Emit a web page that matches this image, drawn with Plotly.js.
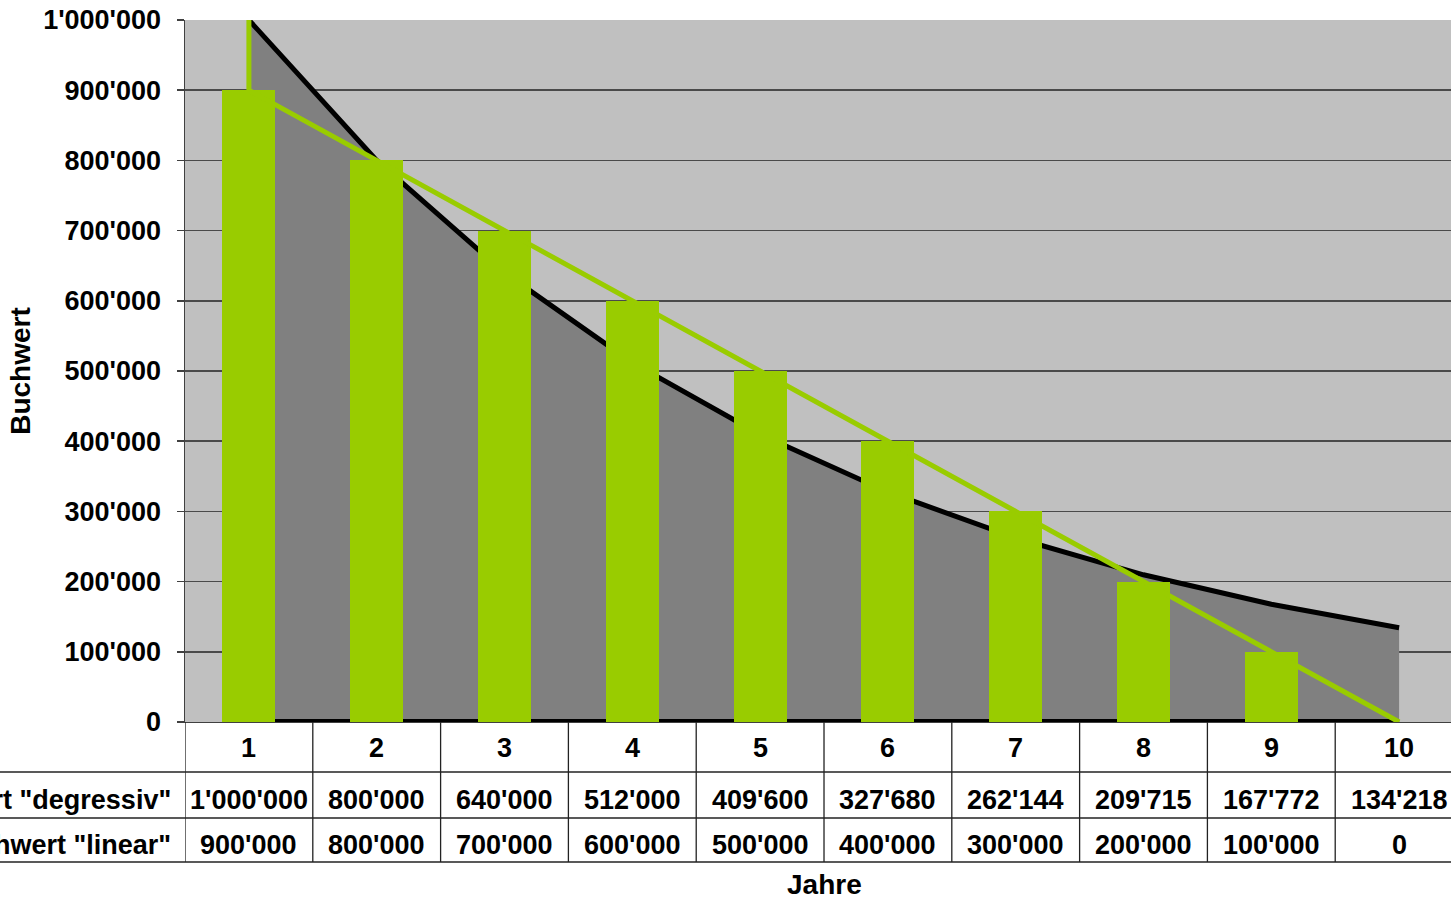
<!DOCTYPE html>
<html>
<head>
<meta charset="utf-8">
<script src="https://cdn.plot.ly/plotly-3.0.1.min.js"></script>
<style>
html,body{margin:0;padding:0;background:#fff;overflow:hidden;}
#chart{width:1451px;height:901px;}
</style>
</head>
<body>
<div id="chart"></div>
<script>
// ---- data ----
var jahre = [1, 2, 3, 4, 5, 6, 7, 8, 9, 10];
var buchwertDegressiv = [1000000, 800000, 640000, 512000, 409600, 327680, 262144, 209715, 167772, 134218];
var buchwertLinear = [900000, 800000, 700000, 600000, 500000, 400000, 300000, 200000, 100000, 0];
var anschaffungswert = 1000000;
var rowLabels = ['Buchwert "degressiv"', 'Buchwert "linear"'];
var xTitle = 'Jahre';
var yTitle = 'Buchwert';
var yTickVals = [0, 100000, 200000, 300000, 400000, 500000, 600000, 700000, 800000, 900000, 1000000];

// ---- helpers ----
function fmt(v) { return String(v).replace(/\B(?=(\d{3})+(?!\d))/g, "'"); }

var FONT = '"Liberation Sans", Arial, sans-serif';
var green = '#99CC00';
var FS = 27;
var FT = 28;

var traces = [
  { // area degressiv (bottom layer, main axes)
    type: 'scatter', mode: 'lines', x: jahre, y: buchwertDegressiv,
    fill: 'tozeroy', fillcolor: '#808080',
    line: { color: '#000000', width: 5 }, xaxis: 'x', yaxis: 'y', hoverinfo: 'skip'
  },
  { // bottom border of area
    type: 'scatter', mode: 'lines', x: [jahre[0], jahre[jahre.length - 1]], y: [0, 0],
    line: { color: '#000000', width: 6 }, xaxis: 'x', yaxis: 'y', hoverinfo: 'skip'
  },
  { // bars linear (overlay axes)
    type: 'bar', x: jahre, y: buchwertLinear, width: 0.415,
    marker: { color: green, line: { width: 0 } }, xaxis: 'x', yaxis: 'y2'
  },
  { // linear line incl. start value
    type: 'scatter', mode: 'lines', x: [jahre[0]].concat(jahre), y: [anschaffungswert].concat(buchwertLinear),
    line: { color: green, width: 5 }, xaxis: 'x', yaxis: 'y2', hoverinfo: 'skip'
  }
];

// table geometry (paper y)
function py(px) { return (722 - px) / 702; }
var annotations = [];
var shapes = [];
jahre.forEach(function (j, i) {
  annotations.push({ xref: 'x', yref: 'paper', x: j, y: py(748), text: String(j), showarrow: false,
    xanchor: 'center', yanchor: 'middle', font: { family: FONT, size: FS, weight: 'bold', color: '#000' } });
  annotations.push({ xref: 'x', yref: 'paper', x: j, y: py(800), text: fmt(buchwertDegressiv[i]), showarrow: false,
    xanchor: 'center', yanchor: 'middle', font: { family: FONT, size: FS, weight: 'bold', color: '#000' } });
  annotations.push({ xref: 'x', yref: 'paper', x: j, y: py(845), text: fmt(buchwertLinear[i]), showarrow: false,
    xanchor: 'center', yanchor: 'middle', font: { family: FONT, size: FS, weight: 'bold', color: '#000' } });
  shapes.push({ type: 'line', xref: 'x', yref: 'paper', x0: j - 0.5, x1: j - 0.5, y0: 0, y1: py(862),
    line: { color: '#222', width: 1.3 } });
});
[py(800), py(845)].forEach(function (yy, k) {
  annotations.push({ xref: 'paper', yref: 'paper', x: (173 - 185) / 1266, y: yy, text: rowLabels[k], showarrow: false,
    xanchor: 'right', yanchor: 'middle', font: { family: FONT, size: FS, weight: 'bold', color: '#000' } });
});
[772, 818, 862].forEach(function (px) {
  shapes.push({ type: 'line', xref: 'paper', yref: 'paper', x0: -0.2, x1: 1, y0: py(px), y1: py(px),
    line: { color: '#222', width: 1.3 } });
});
// x-axis title centred under the full category span
annotations.push({ xref: 'x', yref: 'paper', x: (jahre[0] + jahre[jahre.length - 1]) / 2, y: py(884), text: xTitle,
  showarrow: false, xanchor: 'center', yanchor: 'middle', borderpad: 0,
  font: { family: FONT, size: FT, weight: 'bold', color: '#000' } });

var layout = {
  width: 1451, height: 901,
  margin: { l: 185, r: 0, t: 20, b: 179, pad: 0 },
  paper_bgcolor: '#ffffff', plot_bgcolor: '#C0C0C0',
  separators: ".'",
  showlegend: false,
  font: { family: FONT, size: FS, color: '#000' },
  xaxis: {
    range: [0.5, 10.406], showticklabels: false, showgrid: false, zeroline: false,
    showline: true, linecolor: '#404040', linewidth: 1, ticks: '', fixedrange: true
  },
  yaxis: {
    range: [0, 1000000], tickvals: yTickVals, tickformat: ',d',
    showgrid: true, gridcolor: '#4a4a4a', gridwidth: 1.5, zeroline: false,
    showline: true, linecolor: '#404040', linewidth: 1.5,
    ticks: 'outside', ticklen: 7, tickcolor: '#404040', tickwidth: 1.5,
    ticklabelstandoff: 10,
    tickfont: { family: FONT, size: FS, weight: 'bold', color: '#000' },
    title: { text: yTitle, standoff: 4, font: { family: FONT, size: FT, weight: 'bold', color: '#000' } },
    fixedrange: true
  },
  yaxis2: { overlaying: 'y', range: [0, 1000000], visible: false, fixedrange: true },
  annotations: annotations,
  shapes: shapes,
  bargap: 0
};

Plotly.newPlot('chart', traces, layout, { displayModeBar: false, staticPlot: true });
</script>
</body>
</html>
